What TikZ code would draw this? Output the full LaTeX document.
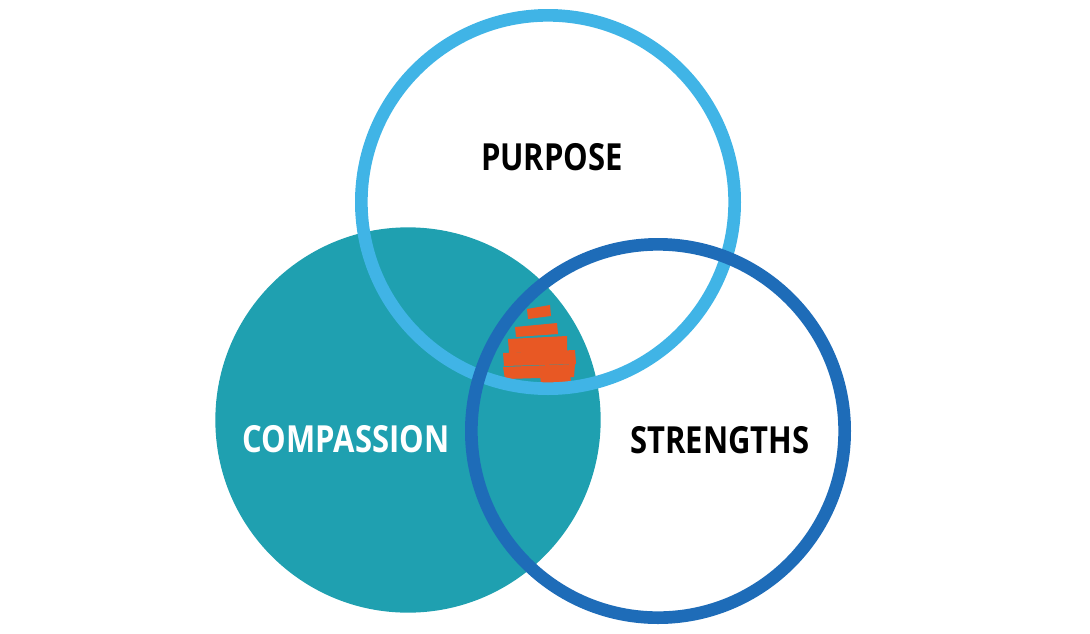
\documentclass[tikz,border=0pt]{standalone}
\usepackage{fontspec}
\newfontfamily\vennfont[FakeStretch=0.83]{Open Sans}
\usetikzlibrary{positioning}
\definecolor{vennteal}{RGB}{31,160,176}
\definecolor{vennsky}{RGB}{64,180,230}
\definecolor{venndeep}{RGB}{30,108,184}
\definecolor{vennorange}{RGB}{232,88,36}

\begin{document}
\begin{tikzpicture}[x=0.75pt,y=-0.75pt,
            disc/.style={circle,fill=vennteal,inner sep=0pt,
                         minimum size=289pt},
            ring/.style={circle,draw,line width=9.5pt,inner sep=0pt,
                         minimum size=280pt},
            word/.style={font=\vennfont\bfseries\fontsize{28}{32}\selectfont,
                         inner sep=0pt}]
            \useasboundingbox (0,0) rectangle (1090,633);
            \node[disc] (compassion) at (408,420) {};
            % scribble in the middle
            \fill[vennorange] (527,309) -- (550,305) -- (551,316) -- (528,319) -- cycle;
            \fill[vennorange] (515,327) -- (557,323) -- (558,334) -- (516,337) -- cycle;
            \fill[vennorange] (508,339) -- (567,336) -- (567,351) -- (509,353) -- cycle;
            \fill[vennorange] (503,353) -- (575,350) -- (576,364) -- (504,366) -- cycle;
            \fill[vennorange] (503,367) -- (575,364) -- (574,377) -- (505,379) -- cycle;
            \fill[vennorange] (540,376) -- (570,373) -- (571,382) -- (541,384) -- cycle;
            \node[ring,draw=vennsky] (purpose) at (548,202) {};
            \node[ring,draw=venndeep] (strengths) at (658,431) {};
            \node[word] (purposetxt) at (552,157) {PURPOSE};
            \node[word,white] (compassiontxt) at (346,439) {COMPASSION};
            \node[word] (strengthstxt) at (720,440) {STRENGTHS};
        \end{tikzpicture}
\end{document}
